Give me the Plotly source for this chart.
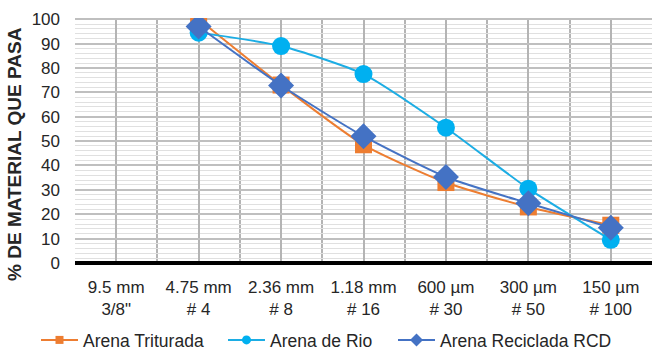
import plotly.graph_objects as go

categories = ["9.5 mm<br>3/8\"", "4.75 mm<br># 4", "2.36 mm<br># 8", "1.18 mm<br># 16",
              "600 µm<br># 30", "300 µm<br># 50", "150 µm<br># 100"]
triturada = [None, 100, 73, 48.5, 33, 23, 15.5]
rio = [None, 94.5, 89, 77.5, 55.5, 30.5, 9.5]
reciclada = [None, 97, 72.8, 52, 35.3, 24.5, 14.5]

xpos = list(range(len(categories)))
font = "Liberation Sans, Arial, sans-serif"
txt = "#262626"

series = [
    ("Arena Triturada", triturada, "#ED7D31", "#ED7D31", "square", 17, 8, "legend"),
    ("Arena de Rio", rio, "#1CADE4", "#00B0F0", "circle", 18, 9, "legend2"),
    ("Arena Reciclada RCD", reciclada, "#4472C4", "#4472C4", "diamond", 20, 10, "legend3"),
]

fig = go.Figure()
for name, vals, lc, mc, sym, size, lsize, lg in series:
    fig.add_trace(go.Scatter(x=xpos, y=vals, name=name, mode="lines+markers", showlegend=False,
                             line=dict(color=lc, width=2, shape="spline", smoothing=0.6),
                             marker=dict(symbol=sym, size=size, color=mc)))
for name, vals, lc, mc, sym, size, lsize, lg in series:
    fig.add_trace(go.Scatter(x=[None], y=[None], name=name, mode="lines+markers", legend=lg,
                             line=dict(color=lc, width=2),
                             marker=dict(symbol=sym, size=lsize, color=mc)))

fig.add_annotation(text="<b>% DE MATERIAL QUE PASA</b>", textangle=-90,
                   xref="paper", yref="paper", x=-0.104, y=0.445,
                   xanchor="center", yanchor="middle", showarrow=False,
                   font=dict(size=19, color=txt, family=font))

def legend_at(px):
    return dict(orientation="h", x=(px - 75) / 577, xanchor="left", y=0.034, yanchor="middle",
                yref="container", itemwidth=37, bgcolor="rgba(0,0,0,0)",
                font=dict(size=17.5, color=txt, family=font))

fig.update_layout(
    width=654, height=352,
    margin=dict(l=75, r=2, t=18, b=89, autoexpand=False),
    paper_bgcolor="white", plot_bgcolor="white",
    font=dict(family=font, size=17, color=txt),
    showlegend=True,
    legend=legend_at(36),
    legend2=legend_at(223),
    legend3=legend_at(393),
    xaxis=dict(range=[-0.5, 6.5], tickmode="array", tickvals=xpos, ticktext=categories,
               showgrid=True, gridcolor="#B4B4B4", gridwidth=2,
               minor=dict(tickmode="array", tickvals=[i - 0.5 for i in range(8)],
                          showgrid=True, gridcolor="#B4B4B4", gridwidth=2),
               zeroline=False, showline=False, ticks="", tickfont=dict(size=17),
               ticklabelstandoff=12, automargin=False, fixedrange=True),
    yaxis=dict(range=[0, 100.5], tickmode="linear", tick0=0, dtick=10,
               showgrid=True, gridcolor="#BFBFBF", gridwidth=1.5,
               minor=dict(dtick=2, showgrid=True, gridcolor="#E0E0E0", gridwidth=1),
               zeroline=True, zerolinecolor="#000000", zerolinewidth=3.5,
               showline=False, ticks="", tickfont=dict(size=17),
               ticklabelstandoff=14, automargin=False),
)

fig.write_html("out.html")
